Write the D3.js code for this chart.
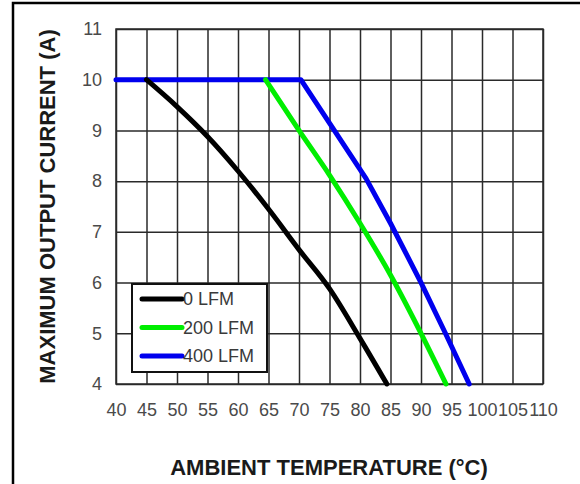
<!DOCTYPE html>
<html lang="en">
<head>
    <meta charset="UTF-8">
    <title>Derating</title>
    <script src="https://cdn.jsdelivr.net/npm/d3@7"></script>
    <style>
        body { margin: 0; background: #fff; }
        svg { display: block; font-family: "Liberation Sans", Arial, sans-serif; }
    </style>
</head>
<body>
    <svg width="580" height="484" id="mainsvg"></svg>
    <script>
        // series: [temperature °C, current A]
        const lfm0 = [[45, 10], [50, 9.47], [55, 8.88], [60, 8.2], [65, 7.45], [70, 6.65], [75, 5.88], [80, 4.9], [84.4, 4]]
        const lfm200 = [[64.5, 10], [70, 9.0], [75, 8.12], [80, 7.17], [85, 6.15], [90, 5.0], [94.1, 4]]
        const lfm400 = [[40, 10], [70.3, 10], [81, 8.05], [85, 7.17], [90, 6.0], [94, 5.0], [97.9, 4]]
        const seriesNames = ["0 LFM", "200 LFM", "400 LFM"]
        const seriesColors = ["#000000", "#00ee00", "#0000ee"]
        const xTicks = d3.range(40, 111, 5)
        const yTicks = d3.range(4, 12, 1)

        const svg = d3.select('svg')
        const margin = {top: 29, right: 37, bottom: 100, left: 116}
        const width = +svg.attr('width')
        const height = +svg.attr('height')
        const innerWidth = width - margin.left - margin.right
        const innerHeight = height - margin.top - margin.bottom

        // outer frame, only left and top edges are visible
        svg.append('path')
            .attr('d', `M13,${height} V3 H${width}`)
            .attr('fill', 'none').attr('stroke', '#000').attr('stroke-width', 2.5)

        const g = svg.append('g').attr('transform', `translate(${margin.left}, ${margin.top})`)

        const x = d3.scaleLinear().domain([40, 110]).range([0, innerWidth])
        const y = d3.scaleLinear().domain([4, 11]).range([innerHeight, 0])

        const xAxis = d3.axisBottom(x).tickValues(xTicks).tickFormat(d3.format('d'))
            .tickSize(-innerHeight).tickPadding(19)
        const yAxis = d3.axisLeft(y).tickValues(yTicks).tickFormat(d3.format('d'))
            .tickSize(-innerWidth).tickPadding(14)

        const xg = g.append('g').attr('transform', `translate(0, ${innerHeight})`).call(xAxis)
        const yg = g.append('g').call(yAxis)
        for (const ag of [xg, yg]) {
            ag.select('.domain').remove()
            ag.selectAll('.tick line').attr('stroke', '#2a2a2a').attr('stroke-width', 1.5)
            ag.selectAll('.tick text').attr('fill', '#4a4a4a').attr('font-size', 18)
                .attr('font-family', '"Liberation Sans", Arial, sans-serif')
        }

        g.append('rect')
            .attr('width', innerWidth).attr('height', innerHeight)
            .attr('fill', 'none').attr('stroke', '#2a2a2a').attr('stroke-width', 1.5)

        const straight = d3.line().x(d => x(d[0])).y(d => y(d[1]))
        const smooth = d3.line().x(d => x(d[0])).y(d => y(d[1])).curve(d3.curveMonotoneX)
        const data = [lfm0, lfm200, lfm400]
        // black and green bend gently, blue is drawn as straight runs
        const lineFor = [smooth, smooth, straight]
        // draw blue first so the black and green starts sit on top of it
        g.selectAll('.curve').data([2, 1, 0]).join('path')
            .attr('class', 'curve')
            .attr('d', i => lineFor[i](data[i]))
            .attr('fill', 'none')
            .attr('stroke', i => seriesColors[i])
            .attr('stroke-width', 5)
            .attr('stroke-linejoin', 'round')
            .attr('stroke-linecap', 'round')

        // legend
        const lg = g.append('g').attr('transform', `translate(${132 - margin.left}, ${284 - margin.top})`)
        lg.append('rect')
            .attr('width', 135).attr('height', 88)
            .attr('fill', '#fff').attr('stroke', '#111').attr('stroke-width', 2)
        seriesNames.forEach((name, i) => {
            const ly = 15 + i * 28.5
            lg.append('line')
                .attr('x1', 10).attr('x2', 50).attr('y1', ly).attr('y2', ly)
                .attr('stroke', seriesColors[i]).attr('stroke-width', 5).attr('stroke-linecap', 'round')
            lg.append('text')
                .attr('x', 51).attr('y', ly).attr('dy', '0.36em')
                .attr('font-size', 18).attr('fill', '#3a3a3a')
                .text(name)
        })

        // axis titles
        svg.append('text')
            .attr('transform', `translate(55, ${margin.top + innerHeight / 2}) rotate(-90)`)
            .attr('text-anchor', 'middle')
            .attr('font-size', 22).attr('font-weight', 'bold').attr('fill', '#1a1a1a')
            .text('MAXIMUM OUTPUT CURRENT (A)')
        svg.append('text')
            .attr('x', 329).attr('y', 475)
            .attr('text-anchor', 'middle')
            .attr('font-size', 22).attr('font-weight', 'bold').attr('fill', '#1a1a1a')
            .text('AMBIENT TEMPERATURE (°C)')
    </script>
</body>
</html>
